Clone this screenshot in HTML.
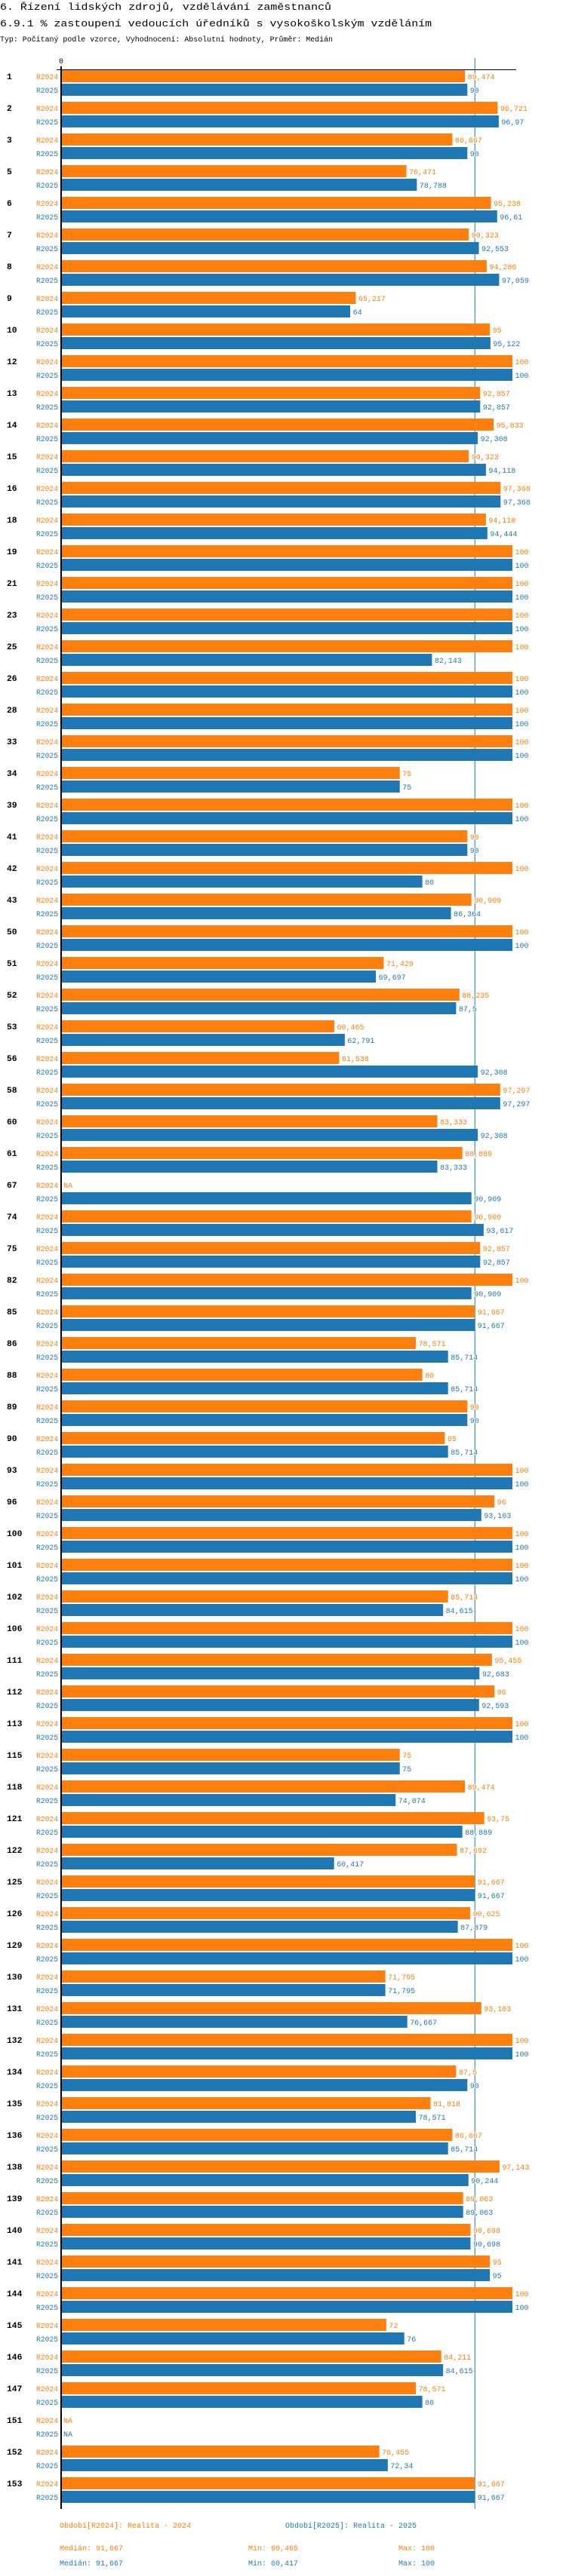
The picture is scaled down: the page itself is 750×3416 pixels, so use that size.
<!DOCTYPE html>
<html><head><meta charset="utf-8">
<style>
html,body{margin:0;padding:0;background:#fff;}
svg{display:block;}
text{font-family:"Liberation Mono",monospace;}
</style></head>
<body>
<svg id="chart" width="750" height="3416" viewBox="0 0 750 3416" xmlns="http://www.w3.org/2000/svg">
<text x="0" y="13" font-size="13" textLength="439" lengthAdjust="spacingAndGlyphs">6. Řízení lidských zdrojů, vzdělávání zaměstnanců</text>
<text x="0" y="35" font-size="13" textLength="572" lengthAdjust="spacingAndGlyphs">6.9.1 % zastoupení vedoucích úředníků s vysokoškolským vzděláním</text>
<text x="0" y="55" font-size="10" textLength="441" lengthAdjust="spacingAndGlyphs">Typ: Počítaný podle vzorce, Vyhodnocení: Absolutní hodnoty, Průměr: Medián</text>
<g id="plot"></g>
</svg>
<script>
const groups = [1,2,3,5,6,7,8,9,10,12,13,14,15,16,18,19,21,23,25,26,28,33,34,39,41,42,43,50,51,52,53,56,58,60,61,67,74,75,82,85,86,88,89,90,93,96,100,101,102,106,111,112,113,115,118,121,122,125,126,129,130,131,132,134,135,136,138,139,140,141,144,145,146,147,151,152,153];
const r2024 = [89.474,96.721,86.667,76.471,95.238,90.323,94.286,65.217,95,100,92.857,95.833,90.323,97.368,94.118,100,100,100,100,100,100,100,75,100,90,100,90.909,100,71.429,88.235,60.465,61.538,97.297,83.333,88.889,null,90.909,92.857,100,91.667,78.571,80,90,85,100,96,100,100,85.714,100,95.455,96,100,75,89.474,93.75,87.692,91.667,90.625,100,71.795,93.103,100,87.5,81.818,86.667,97.143,89.063,90.698,95,100,72,84.211,78.571,null,70.455,91.667];
const r2025 = [90,96.97,90,78.788,96.61,92.553,97.059,64,95.122,100,92.857,92.308,94.118,97.368,94.444,100,100,100,82.143,100,100,100,75,100,90,80,86.364,100,69.697,87.5,62.791,92.308,97.297,92.308,83.333,90.909,93.617,92.857,90.909,91.667,85.714,85.714,90,85.714,100,93.103,100,100,84.615,100,92.683,92.593,100,75,74.074,88.889,60.417,91.667,87.879,100,71.795,76.667,100,90,78.571,85.714,90.244,89.063,90.698,95,100,76,84.615,80,null,72.34,91.667];
const seriesNames = ["R2024","R2025"];
const medians = [91.667, 91.667];
const mins = [60.465, 60.417];
const maxs = [100, 100];
const tickLabels = ["0"];

const C = ["#ff7f0e","#1f77b4"];
const NS = "http://www.w3.org/2000/svg";
const X0 = 82, X100 = 679, TOP = 93, PITCH = 42, BH = 16, GAP = 18;
const xs = v => X0 + (X100 - X0) * v / 100;
const ys = i => TOP + i * PITCH;
const fmt = v => String(v).replace('.', ',');
const plot = document.getElementById('plot');
function el(tag, attrs, txt){
  const e = document.createElementNS(NS, tag);
  for (const k in attrs) e.setAttribute(k, attrs[k]);
  if (txt !== undefined) e.textContent = txt;
  plot.appendChild(e);
  return e;
}
const bottom = ys(groups.length - 1) + GAP + BH + 8;
// median line
let m = el('line', {x1: xs(medians[0]), x2: xs(medians[0]), y1: 77, y2: bottom, stroke: C[1], 'stroke-width': 1});


// axes
let ax = el('line', {x1: 75, x2: 684, y1: 92.5, y2: 92.5, stroke: '#000', 'stroke-width': 1});


let ay = el('line', {x1: 81, x2: 81, y1: 88, y2: bottom, stroke: '#000', 'stroke-width': 2});


let t0 = el('text', {x: xs(0) - 1, y: 84, 'font-size': 10, 'text-anchor': 'middle'}, tickLabels[0]);



groups.forEach((g, i) => {
  const y = ys(i);
  const gl = el('text', {x: 9, y: y + 12, 'font-size': 11, 'font-weight': 'bold', textLength: String(g).length * 6.8, lengthAdjust: 'spacingAndGlyphs'}, String(g));
  
  
  [r2024[i], r2025[i]].forEach((v, s) => {
    const by = y + s * GAP;
    const sl = el('text', {x: 77, y: by + 12, 'font-size': 10, fill: C[s], 'text-anchor': 'end', textLength: 29, lengthAdjust: 'spacingAndGlyphs'}, seriesNames[s]);
    
    
    if (v === null) {
      const na = el('text', {x: 84, y: by + 12, 'font-size': 10, fill: C[s], textLength: 12, lengthAdjust: 'spacingAndGlyphs'}, 'NA');
      
      
      return;
    }
    const r = el('rect', {x: X0, y: by, width: xs(v) - X0, height: BH, fill: C[s]});
    
    
    const s2 = fmt(v);
    const vl = el('text', {x: xs(v) + 3.5, y: by + 12, 'font-size': 10, fill: C[s], stroke: '#fff', 'stroke-width': 2, 'paint-order': 'stroke', textLength: s2.length * 6, lengthAdjust: 'spacingAndGlyphs'}, s2);
    
    
  });
});

// legend
const legX = [79, 378];
seriesNames.forEach((n, s) => {
  const lt = 'Období[' + n + ']: Realita - ' + n.slice(1);
  const l = el('text', {x: legX[s], y: 3352, 'font-size': 10, fill: C[s], textLength: lt.length * 6, lengthAdjust: 'spacingAndGlyphs'}, lt);
  
  
  const yy = 3382 + s * 20;
  const a = 'Medián: ' + fmt(medians[s]);
  const b = 'Min: ' + fmt(mins[s]);
  const c = 'Max: ' + fmt(maxs[s]);
  const t1 = el('text', {x: 79, y: yy, 'font-size': 10, fill: C[s], textLength: a.length * 6, lengthAdjust: 'spacingAndGlyphs'}, a);
  
  
  const t2 = el('text', {x: 329, y: yy, 'font-size': 10, fill: C[s], textLength: b.length * 6, lengthAdjust: 'spacingAndGlyphs'}, b);
  
  
  const t3 = el('text', {x: 528, y: yy, 'font-size': 10, fill: C[s], textLength: c.length * 6, lengthAdjust: 'spacingAndGlyphs'}, c);
  
  
});
</script>
</body></html>
